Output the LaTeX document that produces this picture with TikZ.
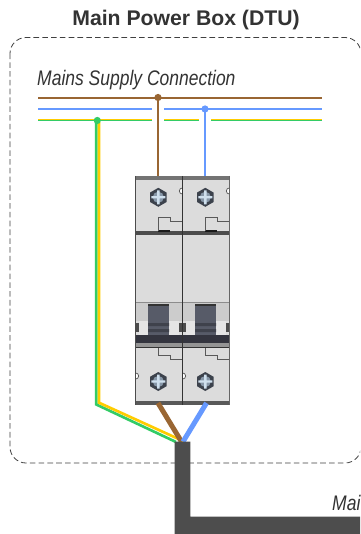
\documentclass[tikz,border=0pt]{standalone}
\usepackage{fontspec}
\setmainfont{Liberation Sans}
\definecolor{wbrown}{HTML}{996633}
\definecolor{wblue}{HTML}{6699FF}
\definecolor{wgreen}{HTML}{33CC66}
\definecolor{wyellow}{HTML}{FFCC00}
\definecolor{txt}{HTML}{333333}
\definecolor{cable}{HTML}{4D4D4D}
\definecolor{body}{HTML}{DCDCDC}
\definecolor{lever}{HTML}{575B68}
\definecolor{lever2}{HTML}{3F424C}
\definecolor{band}{HTML}{33343E}
\definecolor{nutdark}{HTML}{3C424C}
\definecolor{nutfill}{HTML}{8797A8}
\definecolor{nutcross}{HTML}{CFE0EE}
\tikzset{
  wire/.style={line width=2*0.75pt},
  dropwire/.style={line width=2.3*0.75pt},
  fatwire/.style={line width=5*0.75pt},
  dotmark/.style={circle,inner sep=0pt,minimum size=5.4pt},
  label/.style={text=txt,inner sep=0pt,xscale=0.83,font=\fontsize{15.8pt}{18pt}\selectfont\itshape},
  titletext/.style={text=txt,inner sep=0pt,font=\fontsize{15.9pt}{18pt}\selectfont\bfseries},
  outline/.style={draw=black!65,line width=0.55pt,fill=none},
}
\newcommand{\nutshape}[2]{%
  \begin{scope}[shift={(#1,#2)}]
  \fill[nutdark] (30:9.5) -- (90:9.5) -- (150:9.5) -- (210:9.5) -- (270:9.5) -- (330:9.5) -- cycle;
  \fill[nutfill] circle (5.6);
  \fill[nutcross] (-7,-1.2) rectangle (7,1.2) (-1.2,-7) rectangle (1.2,7);
  \end{scope}
}
\newcommand{\polepart}[1]{%
  \begin{scope}[shift={(#1,0)}]
    \fill[body] (135.5,176) rectangle (182.3,404);
    \fill[black!55] (135.5,176) rectangle (182.3,180);
    \fill[black!70] (135.5,231) rectangle (182.3,235);
    \fill[black!90] (158,230) rectangle (170,232);
    \nutshape{158.3}{197.3}
    \draw[outline,fill=white] (182.3,194) arc (90:270:3 and 3);
    \draw[outline] (158.5,231) -- (158.5,217) -- (170.5,217) -- (170.5,221) -- (182.3,221);
    % switch section
    \fill[black!45] (135.5,301.5) rectangle (182.3,303);
    \fill[black!20] (135.5,303) rectangle (182.3,321);
    \fill[white!90!black] (138.5,321) rectangle (148,335);
    \fill[white!90!black] (169,321) rectangle (179,335);
    \fill[black!70] (135.5,323) rectangle (138.5,332);
    \fill[black!70] (179,323) rectangle (182.3,332);
    \fill[lever] (148,303.5) rectangle (169,335);
    \fill[black!80] (148,303.5) rectangle (169,306);
    \fill[lever2] (148,323) rectangle (169,326) (148,329) rectangle (169,332);
    \fill[band] (135.5,335) rectangle (182.3,343);
    \fill[black!42] (135.5,343) rectangle (182.3,347);
    \fill[black!80] (135.5,347) rectangle (182.3,348);
    \draw[outline] (158.5,348) -- (158.5,355) -- (170.5,355) -- (170.5,359) -- (182.3,359);
    \nutshape{158.3}{381.5}
    \draw[outline,fill=white] (135.7,379) arc (90:-90:3 and 3);
    \fill[black!65] (135.5,401) rectangle (182.3,404.5);
  \end{scope}}
\begin{document}
\begin{tikzpicture}[x=0.75pt,y=-0.75pt]
\useasboundingbox (0,0) rectangle (360,534);
\clip (0,0) rectangle (360,534);
\fill[white] (0,0) rectangle (360,534);
\node[titletext,anchor=base] (title) at (186,26) {Main Power Box (DTU)};
\draw[black!75,line width=0.6pt,dash pattern=on 4.2pt off 2.4pt,rounded corners=12pt] (10,37.5) rectangle (361,463);
\node[label,anchor=base west] (supply) at (37,86) {Mains Supply Connection};

% breaker terminals and ends
\coordinate (brTop) at (158,176);
\coordinate (blTop) at (205,176);
\coordinate (brBot) at (158,403);
\coordinate (blBot) at (206.5,403);
\coordinate (joinG) at (176,442);
\coordinate (joinY) at (183,441);
\coordinate (joinB) at (183,441.7);
\coordinate (joinBr) at (181.5,441.7);

% mains bus
\draw[wire,wbrown] (38,98) -- (322,98);
\draw[wire,wblue] (38,109) -- (152,109) (164,109) -- (322,109);
\foreach \a/\b in {38/152,164/199,211/322}{
  \fill[wyellow] (\a,118.6) rectangle (\b,119.6);
  \fill[wgreen] (\a,119.6) rectangle (\b,121.2);
}

% drops
\node[dotmark,fill=wbrown] (dbr) at (158,97.5) {};
\node[dotmark,fill=wblue] (dbl) at (205,109) {};
\draw[dropwire,wbrown] (dbr.center) -- (brTop);
\draw[dropwire,wblue] (dbl.center) -- (blTop);

% earth pair
\draw[line width=2pt,wgreen,line join=miter] (96.3,120.5) -- (96.3,404.5) -- (joinG);
\draw[line width=2pt,wyellow,line join=miter] (99,122) -- (99,402.7) -- (joinY);
\node[dotmark,fill=wgreen] (dg) at (97.3,120.5) {};

% breaker
\polepart{0}
\polepart{47}
\fill[black!80] (182,176) rectangle (183,404.5);
\draw[black!70,line width=0.5pt] (135.5,176) -- (135.5,404.5);
\draw[black!60,line width=0.5pt] (229.5,176) -- (229.5,404.5);

% cable
\draw[fatwire,wbrown] (brBot) -- (joinBr);
\draw[fatwire,wblue] (blBot) -- (joinB);
\fill[cable] (174.5,441.7) -- (190.3,441.7) -- (190.3,516.7) -- (361,516.7) -- (361,535) -- (174.5,535) -- cycle;
\node[label,anchor=base west] (mains) at (332,510) {Mai};
\end{tikzpicture}
\end{document}
